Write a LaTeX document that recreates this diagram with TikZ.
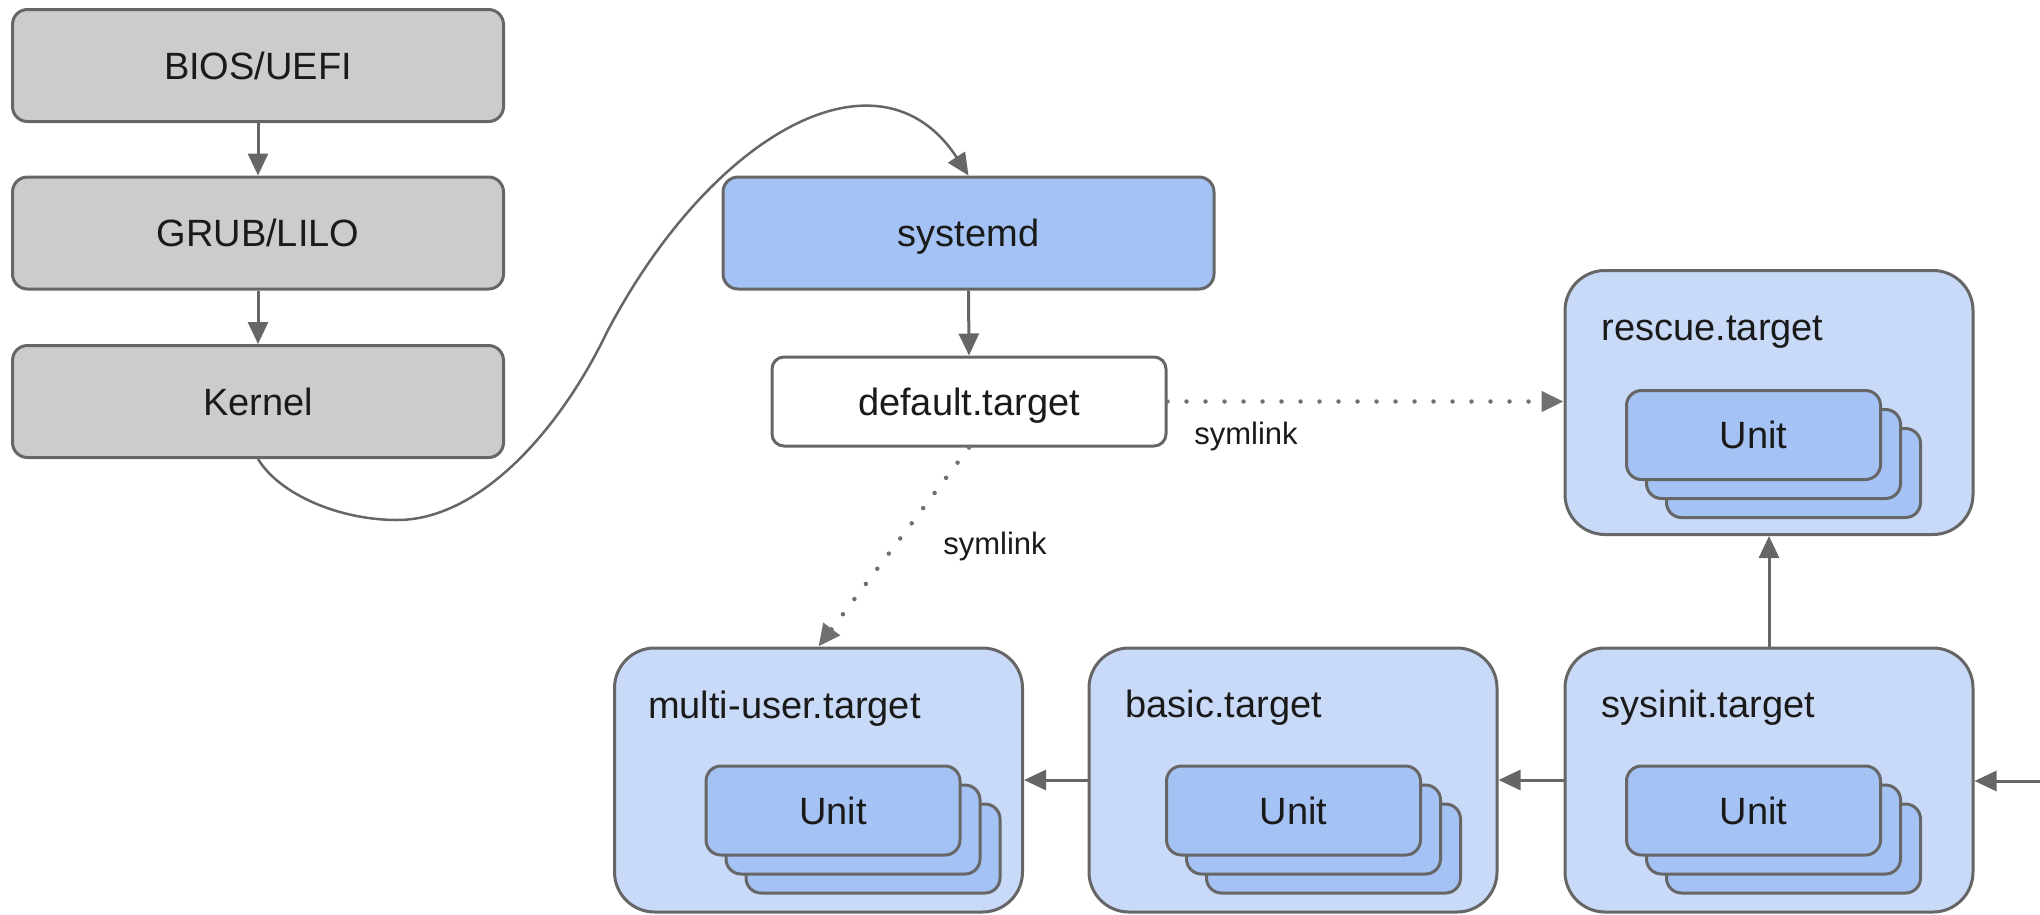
\documentclass[tikz,border=0pt]{standalone}
\usepackage{fontspec}
\setmainfont{Liberation Sans}
\usetikzlibrary{arrows.meta,calc}
\definecolor{edgec}{HTML}{666666}
\definecolor{greyfill}{HTML}{CCCCCC}
\definecolor{bluemid}{HTML}{A4C2F4}
\definecolor{bluelight}{HTML}{C9DAF8}
\definecolor{txtc}{HTML}{1A1A1A}
\definecolor{dotc}{HTML}{707070}
\newcommand\lblfont{\fontsize{38}{44}\selectfont}
\newcommand\lnkfont{\fontsize{31}{36}\selectfont}
\begin{document}
\begin{tikzpicture}[x=1pt,y=-1pt,
  greybox/.style={draw=edgec, fill=greyfill, line width=3pt, rounded corners=15pt,
    minimum width=491pt, minimum height=112pt, font=\lblfont, text=txtc,
    text height=27pt, text depth=0pt},
  sysbox/.style={draw=edgec, fill=bluemid, line width=3pt, rounded corners=15pt,
    minimum width=491pt, minimum height=112pt, font=\lblfont, text=txtc,
    text height=27pt, text depth=0pt},
  defbox/.style={draw=edgec, fill=white, line width=3pt, rounded corners=12pt,
    minimum width=394pt, minimum height=89pt, font=\lblfont, text=txtc,
    text height=27pt, text depth=0pt},
  container/.style={draw=edgec, fill=bluelight, line width=3pt, rounded corners=40pt,
    minimum width=408pt, minimum height=264pt},
  unitcard/.style={draw=edgec, fill=bluemid, line width=3pt, rounded corners=15pt,
    minimum width=254pt, minimum height=89pt, font=\lblfont, text=txtc,
    text height=27pt, text depth=0pt},
  tlabel/.style={anchor=base west, font=\lblfont, text=txtc, inner sep=0pt},
  linklabel/.style={font=\lnkfont, text=txtc, inner sep=0pt},
  arr/.style={draw=edgec, line width=3pt, -{Triangle[length=22pt,width=20pt]}},
  dotarr/.style={draw=dotc, line width=4.5pt, line cap=round, dash pattern=on 0pt off 19pt,
    -{Triangle[length=22pt,width=20pt,fill=dotc]}}
]
\useasboundingbox (0,0) rectangle (2040,914);

% boot chain
\node[greybox] (bios) at (258,65.5) {BIOS/UEFI};
\node[greybox] (grub) at (258,233) {GRUB/LILO};
\node[greybox] (kernel) at (258,401.5) {Kernel};
\node[sysbox] (systemd) at (968.5,233) {systemd};
\node[defbox] (deft) at (969,401.5) {default.target};

% containers
\node[container] (rescue) at (1769,402.5) {};
\node[container] (multi) at (818.5,780) {};
\node[container] (basic) at (1293,780) {};
\node[container] (sysinit) at (1769,780) {};

\node[tlabel] (rescueL) at ([shift={(38,71)}]rescue.north west) {rescue.target};
\node[tlabel] (multiL) at ([shift={(35,72)}]multi.north west) {multi-user.target};
\node[tlabel] (basicL) at ([shift={(38,71)}]basic.north west) {basic.target};
\node[tlabel] (sysinitL) at ([shift={(38,71)}]sysinit.north west) {sysinit.target};

% unit stacks
\node[unitcard] (rescueU3) at ([shift={(230,204)}]rescue.north west) {};
\node[unitcard] (rescueU2) at ([shift={(210,185)}]rescue.north west) {};
\node[unitcard] (rescueU) at ([shift={(190,166)}]rescue.north west) {Unit};

\node[unitcard] (multiU3) at ([shift={(260,202)}]multi.north west) {};
\node[unitcard] (multiU2) at ([shift={(240,183)}]multi.north west) {};
\node[unitcard] (multiU) at ([shift={(220,164)}]multi.north west) {Unit};

\node[unitcard] (basicU3) at ([shift={(246,202)}]basic.north west) {};
\node[unitcard] (basicU2) at ([shift={(226,183)}]basic.north west) {};
\node[unitcard] (basicU) at ([shift={(206,164)}]basic.north west) {Unit};

\node[unitcard] (sysinitU3) at ([shift={(230,202)}]sysinit.north west) {};
\node[unitcard] (sysinitU2) at ([shift={(210,183)}]sysinit.north west) {};
\node[unitcard] (sysinitU) at ([shift={(190,164)}]sysinit.north west) {Unit};

% connectors
\draw[arr] (bios.south) -- (grub.north);
\draw[arr] (grub.south) -- (kernel.north);
\draw[arr] (systemd.south) -- (deft.north);
\draw[arr, line width=2.5pt] (kernel.south)
  .. controls (280,495) and (340,520) .. (397,520)
  .. controls (480,520) and (560,430) .. (607,332)
  .. controls (712,132) and (880,40) .. (systemd.north);

\draw[dotarr] (deft.east) -- (deft.east -| rescue.west);
\draw[dotarr] (deft.south) -- (multi.north);
\node[linklabel] (lnk1) at (1246,436) {symlink};
\node[linklabel] (lnk2) at (995,546) {symlink};

\draw[arr] (sysinit.north) -- (rescue.south);
\draw[arr] (basic.west) -- (multi.east);
\draw[arr] (sysinit.west) -- (basic.east);
\coordinate (rin) at (2042,781);
\draw[arr] (rin) -- (sysinit.east |- rin);
\end{tikzpicture}
\end{document}
